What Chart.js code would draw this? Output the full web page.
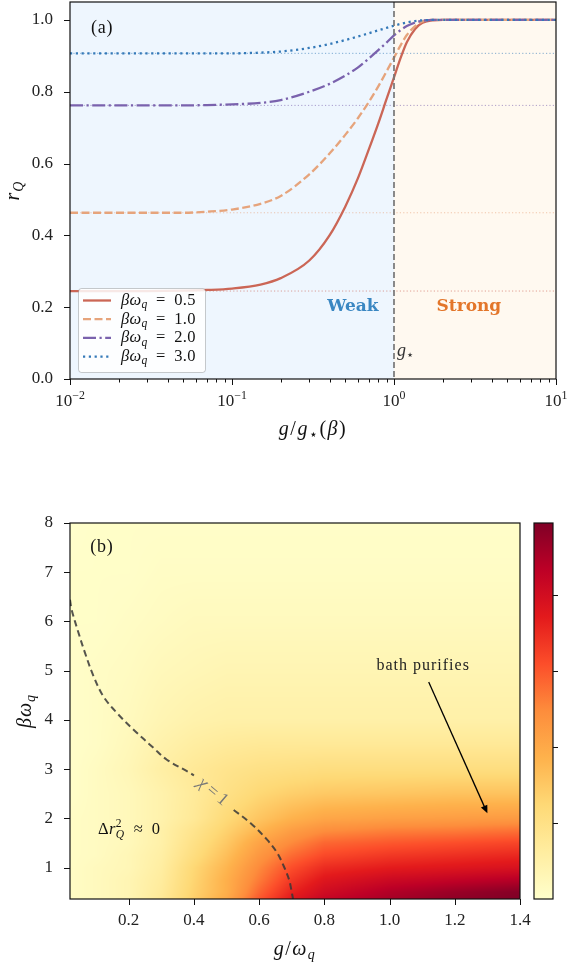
<!DOCTYPE html>
<html>
<head>
<meta charset="utf-8">
<script src="https://cdn.jsdelivr.net/npm/chart.js@4.4.1/dist/chart.umd.min.js"></script>
<style>
  body { margin: 0; background: #fff; }
  #wrap { position: relative; width: 568px; height: 967px; }
  canvas { position: absolute; left: 0; }
</style>
</head>
<body>
<div id="wrap">
  <canvas id="rq" width="568" height="450" style="top:0;width:568px;height:450px"></canvas>
  <canvas id="heat" width="568" height="467" style="top:500px;width:568px;height:467px"></canvas>
</div>
<script>
// ---- panel (a): r_Q vs g/g*(beta) ----
var gRatio = [0.01, 0.03, 0.05, 0.07, 0.1, 0.15, 0.2, 0.3, 0.4, 0.5, 0.6, 0.7, 0.8, 0.9, 1.0, 1.1, 1.2, 1.35, 1.5, 1.75, 2, 3, 10];
var rBw05 = [0.245, 0.245, 0.246, 0.248, 0.252, 0.263, 0.281, 0.33, 0.40, 0.48, 0.56, 0.64, 0.712, 0.78, 0.84, 0.895, 0.938, 0.975, 0.992, 0.999, 1, 1, 1];
var rBw10 = [0.463, 0.463, 0.463, 0.466, 0.472, 0.488, 0.51, 0.57, 0.628, 0.68, 0.727, 0.772, 0.815, 0.857, 0.895, 0.93, 0.958, 0.983, 0.996, 1, 1, 1, 1];
var rBw20 = [0.762, 0.762, 0.762, 0.763, 0.765, 0.769, 0.777, 0.80, 0.822, 0.845, 0.868, 0.893, 0.916, 0.937, 0.957, 0.972, 0.983, 0.993, 0.998, 1, 1, 1, 1];
var rBw30 = [0.907, 0.907, 0.907, 0.907, 0.907, 0.909, 0.912, 0.922, 0.933, 0.944, 0.954, 0.963, 0.971, 0.978, 0.984, 0.989, 0.993, 0.997, 0.999, 1, 1, 1, 1];
var bwLabels = ['0.5', '1.0', '2.0', '3.0'];
var rBaseline = [0.245, 0.463, 0.762, 0.907];
var rTicks = [0, 0.2, 0.4, 0.6, 0.8, 1.0];
var decades = [0.01, 0.1, 1, 10];
var decadeExp = ['\u22122', '\u22121', '0', '1'];

// ---- panel (b): heat map of delta r_Q^2 ----
var heatG = [0.02, 0.1, 0.2, 0.3, 0.4, 0.5, 0.6, 0.7, 0.8, 1.0, 1.2, 1.4];
var heatBeta = [0.36, 0.5, 0.75, 1.0, 1.25, 1.5, 1.75, 2.0, 2.5, 3.0, 3.5, 4.0, 5.0, 6.0, 7.0, 8.0];
var heatValues = [
  [0.02, 0.04, 0.07, 0.15, 0.28, 0.40, 0.60, 0.75, 0.84, 0.91, 0.96, 0.99],
  [0.02, 0.04, 0.07, 0.14, 0.27, 0.38, 0.57, 0.72, 0.81, 0.89, 0.94, 0.98],
  [0.02, 0.04, 0.07, 0.13, 0.26, 0.38, 0.53, 0.67, 0.76, 0.82, 0.85, 0.88],
  [0.02, 0.04, 0.06, 0.12, 0.25, 0.36, 0.50, 0.62, 0.70, 0.74, 0.76, 0.78],
  [0.02, 0.03, 0.06, 0.11, 0.22, 0.33, 0.46, 0.56, 0.63, 0.67, 0.69, 0.71],
  [0.02, 0.03, 0.05, 0.10, 0.20, 0.30, 0.42, 0.50, 0.57, 0.60, 0.62, 0.64],
  [0.02, 0.03, 0.05, 0.10, 0.18, 0.27, 0.36, 0.44, 0.49, 0.52, 0.53, 0.55],
  [0.02, 0.03, 0.05, 0.09, 0.15, 0.24, 0.31, 0.37, 0.41, 0.43, 0.44, 0.45],
  [0.01, 0.03, 0.05, 0.09, 0.14, 0.20, 0.25, 0.28, 0.30, 0.31, 0.32, 0.32],
  [0.01, 0.03, 0.06, 0.11, 0.15, 0.18, 0.20, 0.21, 0.22, 0.22, 0.22, 0.22],
  [0.01, 0.02, 0.05, 0.09, 0.12, 0.14, 0.15, 0.15, 0.15, 0.15, 0.15, 0.15],
  [0.01, 0.02, 0.04, 0.07, 0.09, 0.10, 0.10, 0.10, 0.10, 0.10, 0.10, 0.10],
  [0.01, 0.02, 0.03, 0.05, 0.06, 0.07, 0.07, 0.07, 0.07, 0.07, 0.07, 0.07],
  [0.01, 0.01, 0.02, 0.03, 0.04, 0.04, 0.04, 0.04, 0.04, 0.04, 0.04, 0.04],
  [0.01, 0.01, 0.01, 0.02, 0.02, 0.02, 0.02, 0.02, 0.02, 0.02, 0.02, 0.02],
  [0.00, 0.01, 0.01, 0.01, 0.01, 0.01, 0.01, 0.01, 0.01, 0.01, 0.01, 0.01]
];
var chiG = [0.02, 0.025, 0.046, 0.066, 0.092, 0.122, 0.164, 0.215, 0.276, 0.317, 0.389, 0.40, 0.46, 0.522, 0.574, 0.625, 0.656, 0.676, 0.692, 0.70, 0.704];
var chiBeta = [6.44, 6.24, 5.77, 5.36, 4.89, 4.48, 4.14, 3.80, 3.43, 3.19, 2.92, 2.87, null, 2.17, 1.9, 1.56, 1.29, 1.02, 0.75, 0.5, 0.36];
var gTicks = [0.2, 0.4, 0.6, 0.8, 1.0, 1.2, 1.4];
var betaTicks = [1, 2, 3, 4, 5, 6, 7, 8];
var cbTicks = [0.2, 0.4, 0.6, 0.8];

var SERIF = '"Liberation Serif", "DejaVu Serif", serif';
var lineColors = ['#cb6656', '#e6a47c', '#7a62ad', '#3479b8'];
var lineDashes = [[], [8, 3.5], [13, 3.5, 2.2, 3.5], [2.2, 3.6]];
var ylorrd = ['#ffffcc', '#ffeda0', '#fed976', '#feb24c', '#fd8d3c', '#fc4e2a', '#e31a1c', '#bd0026', '#800026'];
var cbMax = 0.99;

function hexRgb(h) {
  return [parseInt(h.substr(1, 2), 16), parseInt(h.substr(3, 2), 16), parseInt(h.substr(5, 2), 16)];
}
var ylorrdRgb = ylorrd.map(hexRgb);
function cmap(t) {
  t = Math.max(0, Math.min(1, t)) * (ylorrdRgb.length - 1);
  var i = Math.min(Math.floor(t), ylorrdRgb.length - 2), f = t - i;
  var a = ylorrdRgb[i], b = ylorrdRgb[i + 1];
  return [a[0] + (b[0] - a[0]) * f, a[1] + (b[1] - a[1]) * f, a[2] + (b[2] - a[2]) * f];
}
function locate(arr, v) {
  for (var k = 0; k < arr.length - 2; k++) if (v < arr[k + 1]) return k;
  return arr.length - 2;
}
function heatAt(g, b) {
  var i = locate(heatG, g), j = locate(heatBeta, b);
  var tx = Math.max(0, Math.min(1, (g - heatG[i]) / (heatG[i + 1] - heatG[i])));
  var ty = Math.max(0, Math.min(1, (b - heatBeta[j]) / (heatBeta[j + 1] - heatBeta[j])));
  var v00 = heatValues[j][i], v10 = heatValues[j][i + 1], v01 = heatValues[j + 1][i], v11 = heatValues[j + 1][i + 1];
  return (v00 * (1 - tx) + v10 * tx) * (1 - ty) + (v01 * (1 - tx) + v11 * tx) * ty;
}

// text built of parts: {t, i (italic), d (subscript), u (superscript), b (bold)} or {su, sd} stacked
function partFont(p, size, small) {
  var fs = small ? size * 0.7 : size;
  return (p.i ? 'italic ' : '') + (p.b ? 'bold ' : '') + fs + 'px ' + SERIF;
}
function partWidth(ctx, p, size) {
  if (p.su !== undefined) {
    ctx.font = partFont({}, size, true); var w1 = ctx.measureText(p.su).width;
    ctx.font = partFont({ i: 1 }, size, true); var w2 = ctx.measureText(p.sd).width;
    return Math.max(w1, w2) + 1;
  }
  ctx.font = partFont(p, size, p.d || p.u);
  return ctx.measureText(p.t).width;
}
function richText(ctx, parts, x, y, size, align, color, ls) {
  ctx.save();
  ctx.fillStyle = color || '#111';
  ctx.textBaseline = 'middle';
  ctx.textAlign = 'left';
  ctx.letterSpacing = (ls || 0) + 'px';
  var w = 0;
  parts.forEach(function (p) { w += partWidth(ctx, p, size); });
  var cx = align === 'center' ? x - w / 2 : (align === 'right' ? x - w : x);
  parts.forEach(function (p) {
    var pw = partWidth(ctx, p, size);
    if (p.su !== undefined) {
      ctx.font = partFont({}, size, true);
      ctx.fillText(p.su, cx, y - size * 0.38);
      ctx.font = partFont({ i: 1 }, size, true);
      ctx.fillText(p.sd, cx, y + size * 0.3);
    } else {
      ctx.font = partFont(p, size, p.d || p.u);
      var dy = p.d ? size * 0.28 : (p.u ? -size * 0.38 : 0);
      ctx.fillText(p.t, cx, y + dy);
    }
    cx += pw;
  });
  ctx.restore();
}

function pts(xs, ys) {
  return xs.map(function (x, i) { return { x: x, y: ys[i] }; });
}
function noScalePad(s) {
  s.paddingTop = 0; s.paddingBottom = 0; s.paddingLeft = 0; s.paddingRight = 0;
}

// ---------------- panel (a) ----------------
var rSeries = [rBw05, rBw10, rBw20, rBw30];
var rDatasets = [];
rSeries.forEach(function (s, k) {
  rDatasets.push({
    data: pts(gRatio, s),
    borderColor: lineColors[k],
    borderWidth: 2.3,
    borderDash: lineDashes[k],
    pointRadius: 0,
    cubicInterpolationMode: 'monotone',
    order: 4 - k
  });
});
rBaseline.forEach(function (b, k) {
  rDatasets.push({
    data: [{ x: 0.01, y: b }, { x: 10, y: b }],
    borderColor: lineColors[k] + '99',
    borderWidth: 1,
    borderDash: [1.2, 2.2],
    pointRadius: 0,
    order: 10
  });
});

var rqDeco = {
  id: 'rqDeco',
  beforeDatasetsDraw: function (chart) {
    var ctx = chart.ctx, a = chart.chartArea, xs = chart.scales.x;
    var xm = xs.getPixelForValue(1);
    ctx.save();
    ctx.fillStyle = '#eef6fe';
    ctx.fillRect(a.left, a.top, xm - a.left, a.bottom - a.top);
    ctx.fillStyle = '#fff9f0';
    ctx.fillRect(xm, a.top, a.right - xm, a.bottom - a.top);
    ctx.restore();
  },
  afterDatasetsDraw: function (chart) {
    var ctx = chart.ctx, a = chart.chartArea, xs = chart.scales.x, ys = chart.scales.y;
    var xm = xs.getPixelForValue(1);
    ctx.save();
    // g* divider
    ctx.strokeStyle = '#777';
    ctx.lineWidth = 1.7;
    ctx.setLineDash([6, 3]);
    ctx.beginPath(); ctx.moveTo(xm, a.top); ctx.lineTo(xm, a.bottom); ctx.stroke();
    ctx.setLineDash([]);

    // region labels
    ctx.font = 'bold 17px "DejaVu Serif", serif';
    ctx.textAlign = 'center'; ctx.textBaseline = 'middle';
    ctx.fillStyle = '#3a87c2';
    ctx.fillText('Weak', xs.getPixelForValue(0.558), ys.getPixelForValue(0.203));
    ctx.fillStyle = '#e3762a';
    ctx.fillText('Strong', xs.getPixelForValue(2.9), ys.getPixelForValue(0.203));
    richText(ctx, [{ t: 'g', i: 1 }, { t: '\u22c6', d: 1 }], xs.getPixelForValue(1.045), ys.getPixelForValue(0.078), 18, 'left', '#333');
    richText(ctx, [{ t: '(a)' }], xs.getPixelForValue(0.0158), ys.getPixelForValue(0.977), 18, 'center', '#111', 0.8);

    // legend
    var lx = 78, ly = 288, lw = 127, lh = 84;
    ctx.fillStyle = 'rgba(255,255,255,0.85)';
    ctx.strokeStyle = 'rgba(0,0,0,0.2)';
    ctx.lineWidth = 1;
    ctx.beginPath();
    ctx.roundRect(lx + 0.5, ly + 0.5, lw, lh, 3);
    ctx.fill(); ctx.stroke();
    bwLabels.forEach(function (lab, k) {
      var yy = ly + 12.5 + k * 18.7;
      ctx.strokeStyle = lineColors[k];
      ctx.lineWidth = 2.3;
      ctx.setLineDash(lineDashes[k]);
      ctx.beginPath(); ctx.moveTo(lx + 5, yy); ctx.lineTo(lx + 33, yy); ctx.stroke();
      ctx.setLineDash([]);
      richText(ctx, [{ t: '\u03b2\u03c9', i: 1 }, { t: 'q', i: 1, d: 1 }, { t: '\u2002=\u2002' + lab }], lx + 43, yy, 16.5, 'left', '#111', 0.3);
    });

    // frame
    ctx.strokeStyle = '#111';
    ctx.lineWidth = 1.2;
    ctx.strokeRect(a.left, a.top, a.right - a.left, a.bottom - a.top);

    // x ticks (log, with minor), labels
    ctx.lineWidth = 1;
    xs.ticks.forEach(function (t) {
      var px = Math.round(xs.getPixelForValue(t.value)) + 0.5;
      var major = decades.indexOf(t.value) >= 0;
      ctx.beginPath(); ctx.moveTo(px, a.bottom); ctx.lineTo(px, a.bottom + (major ? 6 : 3.5)); ctx.stroke();
    });
    decades.forEach(function (d, k) {
      var px = xs.getPixelForValue(d);
      richText(ctx, [{ t: '10' }, { t: decadeExp[k], u: 1 }], px, a.bottom + 23, 17, 'center', '#222');
    });
    ys.ticks.forEach(function (t) {
      var py = Math.round(ys.getPixelForValue(t.value)) + 0.5;
      ctx.beginPath(); ctx.moveTo(a.left, py); ctx.lineTo(a.left - 6, py); ctx.stroke();
    });

    // axis titles
    richText(ctx, [{ t: 'g', i: 1 }, { t: '/' }, { t: 'g', i: 1 }, { t: '\u22c6', d: 1 }, { t: '(' }, { t: '\u03b2', i: 1 }, { t: ')' }],
      (a.left + a.right) / 2, 430, 20, 'center', '#111', 1.5);
    ctx.translate(14, (a.top + a.bottom) / 2);
    ctx.rotate(-Math.PI / 2);
    richText(ctx, [{ t: 'r', i: 1 }, { t: 'Q', i: 1, d: 1 }], 0, 0, 20, 'center', '#111', 1);
    ctx.restore();
  }
};

new Chart(document.getElementById('rq'), {
  type: 'line',
  data: { datasets: rDatasets },
  options: {
    responsive: false,
    animation: false,
    layout: { padding: { left: 0, right: 12, top: 2, bottom: 0 } },
    plugins: { legend: { display: false }, tooltip: { enabled: false } },
    scales: {
      x: {
        type: 'logarithmic', min: 0.01, max: 10,
        afterFit: function (s) { s.height = 71; noScalePad(s); },
        afterBuildTicks: function (s) {
          var v = [];
          decades.slice(0, 3).forEach(function (d) { for (var m = 1; m < 10; m++) v.push(+(d * m).toPrecision(3)); });
          v.push(10);
          s.ticks = v.map(function (x) { return { value: x }; });
        },
        ticks: { display: false },
        grid: { display: false },
        border: { display: false }
      },
      y: {
        min: 0, max: 1.05,
        afterFit: function (s) { s.width = 70; noScalePad(s); },
        afterBuildTicks: function (s) { s.ticks = rTicks.map(function (v) { return { value: v }; }); },
        ticks: {
          font: { family: SERIF, size: 17 }, color: '#222', padding: 9,
          callback: function (v) { return v.toFixed(1); }
        },
        grid: { display: false },
        border: { display: false }
      }
    }
  },
  plugins: [rqDeco]
});

// ---------------- panel (b) ----------------
var heatDeco = {
  id: 'heatDeco',
  beforeDatasetsDraw: function (chart) {
    var a = chart.chartArea, xs = chart.scales.x, ys = chart.scales.y;
    var w = Math.round(a.right - a.left), h = Math.round(a.bottom - a.top);
    var off = document.createElement('canvas');
    off.width = w; off.height = h;
    var octx = off.getContext('2d');
    var img = octx.createImageData(w, h);
    for (var j = 0; j < h; j++) {
      var b = ys.getValueForPixel(a.top + j + 0.5);
      for (var i = 0; i < w; i++) {
        var g = xs.getValueForPixel(a.left + i + 0.5);
        var c = cmap(heatAt(g, b) / cbMax);
        var k = (j * w + i) * 4;
        img.data[k] = c[0]; img.data[k + 1] = c[1]; img.data[k + 2] = c[2]; img.data[k + 3] = 255;
      }
    }
    octx.putImageData(img, 0, 0);
    chart.ctx.drawImage(off, a.left, a.top);
  },
  afterDatasetsDraw: function (chart) {
    var ctx = chart.ctx, a = chart.chartArea, xs = chart.scales.x, ys = chart.scales.y;
    ctx.save();
    // contour label
    ctx.save();
    ctx.translate(xs.getPixelForValue(0.458), ys.getPixelForValue(2.54));
    ctx.rotate(40 * Math.PI / 180);
    richText(ctx, [{ t: '\u03c7', i: 1 }, { t: '\u2009=\u20091' }], 0, 0, 18, 'center', '#777');
    ctx.restore();

    richText(ctx, [{ t: '(b)' }], xs.getPixelForValue(0.118), ys.getPixelForValue(7.5), 18, 'center', '#111', 0.8);
    richText(ctx, [{ t: '\u0394' }, { t: 'r', i: 1 }, { su: '2', sd: 'Q' }, { t: '\u2002\u2248\u20020' }],
      xs.getPixelForValue(0.106), ys.getPixelForValue(1.76), 16.5, 'left', '#111', 0.3);
    richText(ctx, [{ t: 'bath purifies' }], xs.getPixelForValue(1.103), ys.getPixelForValue(5.1), 16, 'center', '#222', 1);

    // arrow
    var x0 = xs.getPixelForValue(1.12), y0 = ys.getPixelForValue(4.77);
    var x1 = xs.getPixelForValue(1.30), y1 = ys.getPixelForValue(2.1);
    var ang = Math.atan2(y1 - y0, x1 - x0);
    ctx.strokeStyle = '#000'; ctx.fillStyle = '#000'; ctx.lineWidth = 1.3;
    ctx.beginPath(); ctx.moveTo(x0, y0); ctx.lineTo(x1 - 6 * Math.cos(ang), y1 - 6 * Math.sin(ang)); ctx.stroke();
    ctx.beginPath();
    ctx.moveTo(x1, y1);
    ctx.lineTo(x1 - 8 * Math.cos(ang) + 3.5 * Math.sin(ang), y1 - 8 * Math.sin(ang) - 3.5 * Math.cos(ang));
    ctx.lineTo(x1 - 8 * Math.cos(ang) - 3.5 * Math.sin(ang), y1 - 8 * Math.sin(ang) + 3.5 * Math.cos(ang));
    ctx.closePath(); ctx.fill();

    // frame + ticks
    ctx.strokeStyle = '#111';
    ctx.lineWidth = 1.2;
    ctx.strokeRect(a.left, a.top, a.right - a.left, a.bottom - a.top);
    ctx.lineWidth = 1;
    gTicks.forEach(function (v) {
      var px = Math.round(xs.getPixelForValue(v)) + 0.5;
      ctx.beginPath(); ctx.moveTo(px, a.bottom); ctx.lineTo(px, a.bottom + 6); ctx.stroke();
    });
    betaTicks.forEach(function (v) {
      var py = Math.round(ys.getPixelForValue(v)) + 0.5;
      ctx.beginPath(); ctx.moveTo(a.left, py); ctx.lineTo(a.left - 6, py); ctx.stroke();
    });

    // colorbar
    var cx0 = 534, cx1 = 553;
    var grad = ctx.createLinearGradient(0, a.bottom, 0, a.top);
    ylorrd.forEach(function (c, k) { grad.addColorStop(k / (ylorrd.length - 1), c); });
    ctx.fillStyle = grad;
    ctx.fillRect(cx0, a.top, cx1 - cx0, a.bottom - a.top);
    ctx.lineWidth = 1.2;
    ctx.strokeRect(cx0, a.top, cx1 - cx0, a.bottom - a.top);
    ctx.lineWidth = 1;
    cbTicks.forEach(function (v) {
      var py = Math.round(a.bottom - v / cbMax * (a.bottom - a.top)) + 0.5;
      ctx.beginPath(); ctx.moveTo(cx1, py); ctx.lineTo(cx1 + 5, py); ctx.stroke();
    });

    // axis titles
    richText(ctx, [{ t: 'g', i: 1 }, { t: '/' }, { t: '\u03c9', i: 1 }, { t: 'q', i: 1, d: 1 }],
      (a.left + a.right) / 2, 450, 20, 'center', '#111', 1.5);
    ctx.translate(26, (a.top + a.bottom) / 2);
    ctx.rotate(-Math.PI / 2);
    richText(ctx, [{ t: '\u03b2\u03c9', i: 1 }, { t: 'q', i: 1, d: 1 }], 0, 0, 20, 'center', '#111', 1);
    ctx.restore();
  }
};

new Chart(document.getElementById('heat'), {
  type: 'scatter',
  data: {
    datasets: [{
      data: pts(chiG, chiBeta),
      showLine: true,
      spanGaps: false,
      borderColor: 'rgba(55,55,55,0.85)',
      borderWidth: 2,
      borderDash: [6.5, 4],
      pointRadius: 0,
      tension: 0.35
    }]
  },
  options: {
    responsive: false,
    animation: false,
    layout: { padding: { left: 0, right: 48, top: 23, bottom: 0 } },
    plugins: { legend: { display: false }, tooltip: { enabled: false } },
    scales: {
      x: {
        type: 'linear', min: 0.02, max: 1.4,
        afterFit: function (s) { s.height = 68; noScalePad(s); },
        afterBuildTicks: function (s) { s.ticks = gTicks.map(function (v) { return { value: v }; }); },
        ticks: {
          font: { family: SERIF, size: 17 }, color: '#222', padding: 3, maxRotation: 0, autoSkip: false,
          callback: function (v) { return v.toFixed(1); }
        },
        grid: { display: false },
        border: { display: false }
      },
      y: {
        type: 'linear', min: 0.36, max: 8,
        afterFit: function (s) { s.width = 70; noScalePad(s); },
        afterBuildTicks: function (s) { s.ticks = betaTicks.map(function (v) { return { value: v }; }); },
        ticks: {
          font: { family: SERIF, size: 17 }, color: '#222', padding: 9,
          callback: function (v) { return String(v); }
        },
        grid: { display: false },
        border: { display: false }
      }
    }
  },
  plugins: [heatDeco]
});
</script>
</body>
</html>
